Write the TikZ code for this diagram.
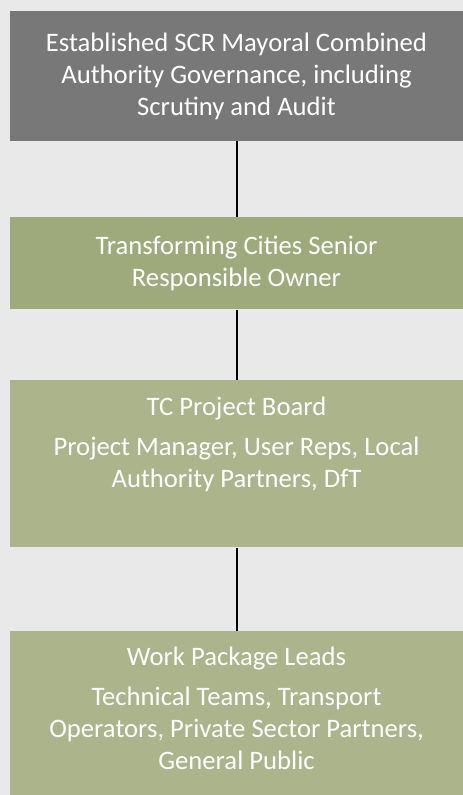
\documentclass[tikz,border=0pt]{standalone}
\usepackage{fontspec}
\setmainfont{Carlito}
\usetikzlibrary{positioning}

\definecolor{pagegray}{RGB}{233,233,233}
\definecolor{govgray}{RGB}{120,120,120}
\definecolor{sroolive}{RGB}{158,170,124}
\definecolor{boardolive}{RGB}{171,180,139}

\tikzset{every picture/.style={line width=0.75pt}}
\tikzset{
  orgbox/.style={draw=none, rectangle, inner sep=0pt, minimum width=339.75pt, text=white, align=center,
    font=\fontsize{20}{24}\selectfont},
  orgtext/.style={inner sep=0pt, text=white, align=center, font=\fontsize{20}{24}\selectfont},
  link/.style={draw=black, line width=1.5pt}
}

\begin{document}
\begin{tikzpicture}[x=0.75pt,y=0.75pt,yscale=-1,xscale=1]
%set diagram left start at 0, and has height of 795
\fill[pagegray] (0,0) rectangle (463,795);
\useasboundingbox (0,0) rectangle (463,795);

%Shape: Rectangle [governance]
\node[orgbox, fill=govgray, minimum height=97.5pt] (gov) at (236.5,76) {Established SCR Mayoral Combined\\Authority Governance, including\\Scrutiny and Audit};
%Shape: Rectangle [senior responsible owner]
\node[orgbox, fill=sroolive, minimum height=69pt] (sro) at (236.5,263) {Transforming Cities Senior\\Responsible Owner};
%Shape: Rectangle [project board]
\node[orgbox, fill=boardolive, minimum height=125.25pt] (board) at (236.5,463.5) {};
\node[orgtext, anchor=north] (boardtxt) at (236.5,396) {TC Project Board\\[6pt]Project Manager, User Reps, Local\\Authority Partners, DfT};
%Shape: Rectangle [work package leads]
\node[orgbox, fill=boardolive, minimum height=123pt] (wpl) at (236.5,713) {};
\node[orgtext, anchor=north] (wpltxt) at (236.5,646) {Work Package Leads\\[6pt]Technical Teams, Transport\\Operators, Private Sector Partners,\\General Public};

%Straight Lines
\draw[link] (gov) -- (sro);
%Straight Lines
\draw[link] (sro) -- (board);
%Straight Lines
\draw[link] (board) -- (wpl);

\end{tikzpicture}
\end{document}
